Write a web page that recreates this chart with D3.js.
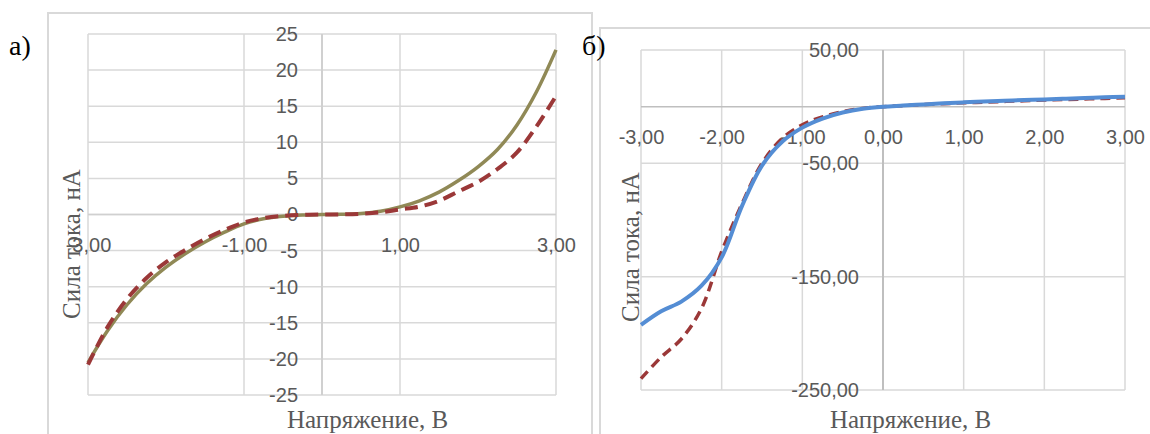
<!DOCTYPE html>
<html>
<head>
    <meta charset="utf-8">
    <title>ВАХ</title>
    <script src="https://d3js.org/d3.v7.min.js"></script>
    <style>
        body { margin: 0; background: #fff; }
        .tick text { font-family: "Liberation Sans", Arial, sans-serif; font-size: 20px; fill: #595959; }
        .title { font-family: "Liberation Serif", "Times New Roman", serif; font-size: 25px; fill: #595959; }
        .panel { font-family: "Liberation Serif", "Times New Roman", serif; font-size: 28px; fill: #000; }
    </style>
</head>
<body>
<div id="chart"></div>
<script>
    // voltage grid, V
    const voltage = [-3, -2.75, -2.5, -2.25, -2, -1.75, -1.5, -1.25, -1, -0.75, -0.5, -0.25, 0,
        0.25, 0.5, 0.75, 1, 1.25, 1.5, 1.75, 2, 2.25, 2.5, 2.75, 3];

    // panel a) current, nA
    const aSolid = [-20.5, -16.1, -12.5, -9.6, -7.3, -5.4, -3.8, -2.45, -1.3, -0.6, -0.25, -0.08, 0,
        0.03, 0.15, 0.45, 1.05, 1.9, 3.1, 4.7, 6.6, 9.0, 12.4, 17.0, 22.8];
    const aDashed = [-20.8, -15.6, -11.7, -8.8, -6.6, -4.9, -3.4, -2.15, -1.1, -0.5, -0.2, -0.05, 0,
        0.02, 0.1, 0.3, 0.7, 1.1, 1.9, 3.2, 4.5, 6.3, 8.6, 12.2, 16.4];

    // panel б) current, nA
    const bSolid = [-192.5, -180.5, -172, -158, -133, -88, -52, -31, -18.5, -10.5, -5.2, -1.8, 0,
        1.0, 2.0, 3.0, 3.8, 4.5, 5.2, 5.8, 6.4, 7.0, 7.6, 8.2, 8.8];
    const bDashed = [-240, -221, -205, -178, -128, -86, -50, -28, -16, -9, -4.5, -1.5, 0,
        0.9, 1.8, 2.6, 3.4, 4.0, 4.6, 5.2, 5.8, 6.3, 6.8, 7.3, 7.8];

    const aXTicks = [-3, -1, 1, 3];
    const aYTicks = [-25, -20, -15, -10, -5, 0, 5, 10, 15, 20, 25];
    const bXTicks = [-3, -2, -1, 0, 1, 2, 3];
    const bYTicks = [50, -50, -150, -250];

    const xTitle = "Напряжение, В";
    const yTitle = "Сила тока, нА";

    const loc = d3.formatLocale({ decimal: ",", thousands: " ", grouping: [3], currency: ["", ""], minus: "-" });
    const fmt2 = loc.format(".2f");
    const fmt0 = loc.format("d");

    const svg = d3.select("#chart").append("svg")
        .attr("width", 1150)
        .attr("height", 434);

    // outer chart frames
    svg.append("rect").attr("x", 48).attr("y", 13).attr("width", 544).attr("height", 500)
        .attr("fill", "none").attr("stroke", "#d9d9d9").attr("stroke-width", 2);
    svg.append("rect").attr("x", 600).attr("y", 28).attr("width", 700).attr("height", 500)
        .attr("fill", "none").attr("stroke", "#d9d9d9").attr("stroke-width", 2);

    const drawPanel = (cfg) => {
        const x = d3.scaleLinear().domain([-3, 3]).range(cfg.xRange);
        const y = d3.scaleLinear().domain(cfg.yDomain).range(cfg.yRange);
        const g = svg.append("g");

        // gridlines
        g.selectAll(".hg").data(cfg.yTicks).join("line")
            .attr("x1", x(-3)).attr("x2", x(3))
            .attr("y1", d => y(d)).attr("y2", d => y(d))
            .attr("stroke", "#d9d9d9").attr("stroke-width", 1.5);
        g.selectAll(".vg").data(cfg.xTicks).join("line")
            .attr("x1", d => x(d)).attr("x2", d => x(d))
            .attr("y1", y(cfg.yDomain[0])).attr("y2", y(cfg.yDomain[1]))
            .attr("stroke", "#d9d9d9").attr("stroke-width", 1.5);

        // axis lines through zero
        g.append("line").attr("x1", x(-3)).attr("x2", x(3)).attr("y1", y(0)).attr("y2", y(0))
            .attr("stroke", cfg.axisColor).attr("stroke-width", 1.5);
        g.append("line").attr("x1", x(0)).attr("x2", x(0))
            .attr("y1", y(cfg.yDomain[0])).attr("y2", y(cfg.yDomain[1]))
            .attr("stroke", cfg.axisColor).attr("stroke-width", 2);

        // tick labels
        const xAxis = g.append("g").attr("transform", `translate(0,${y(0)})`)
            .call(d3.axisBottom(x).tickValues(cfg.xTicks).tickFormat(fmt2).tickSize(0).tickPadding(23));
        xAxis.select(".domain").remove();
        xAxis.selectAll("text").attr("font-size", null).attr("font-family", null).attr("fill", null);

        const yAxis = g.append("g").attr("transform", `translate(${x(0)},0)`)
            .call(d3.axisLeft(y).tickValues(cfg.yTicks).tickFormat(cfg.yFmt).tickSize(0).tickPadding(24));
        yAxis.select(".domain").remove();
        yAxis.selectAll("text").attr("font-size", null).attr("font-family", null).attr("fill", null);

        const line = d3.line().x((d, i) => x(voltage[i])).y(d => y(d)).curve(d3.curveCatmullRom.alpha(0.5));

        cfg.series.forEach(s => {
            g.append("path").datum(s.values)
                .attr("d", line)
                .attr("fill", "none")
                .attr("stroke", s.color)
                .attr("stroke-width", s.width)
                .attr("stroke-dasharray", s.dash)
                .attr("stroke-linejoin", "round");
        });

        // titles
        svg.append("text").attr("class", "title")
            .attr("x", cfg.xTitlePos[0]).attr("y", cfg.xTitlePos[1])
            .text(xTitle);
        svg.append("text").attr("class", "title")
            .attr("text-anchor", "middle")
            .attr("transform", `translate(${cfg.yTitlePos[0]},${cfg.yTitlePos[1]}) rotate(-90)`)
            .text(yTitle);
        svg.append("text").attr("class", "panel")
            .attr("x", cfg.labelPos[0]).attr("y", cfg.labelPos[1])
            .text(cfg.label);
    };

    drawPanel({
        xRange: [88, 556], yDomain: [-25, 25], yRange: [395, 34],
        xTicks: aXTicks, yTicks: aYTicks, yFmt: fmt0, axisColor: "#d0d0d0",
        series: [
            { values: aSolid, color: "#908956", width: 3.5, dash: null },
            { values: aDashed, color: "#9b3838", width: 4, dash: "13,7" }
        ],
        xTitlePos: [287, 428], yTitlePos: [80, 244], labelPos: [9, 55], label: "а)"
    });

    drawPanel({
        xRange: [641, 1125], yDomain: [-250, 50], yRange: [390, 50],
        xTicks: bXTicks, yTicks: bYTicks, yFmt: fmt2, axisColor: "#bfbfbf",
        series: [
            { values: bDashed, color: "#9b3838", width: 3.5, dash: "10,6" },
            { values: bSolid, color: "#548dd4", width: 4, dash: null }
        ],
        xTitlePos: [830, 428], yTitlePos: [639, 247], labelPos: [582, 55], label: "б)"
    });
</script>
</body>
</html>
